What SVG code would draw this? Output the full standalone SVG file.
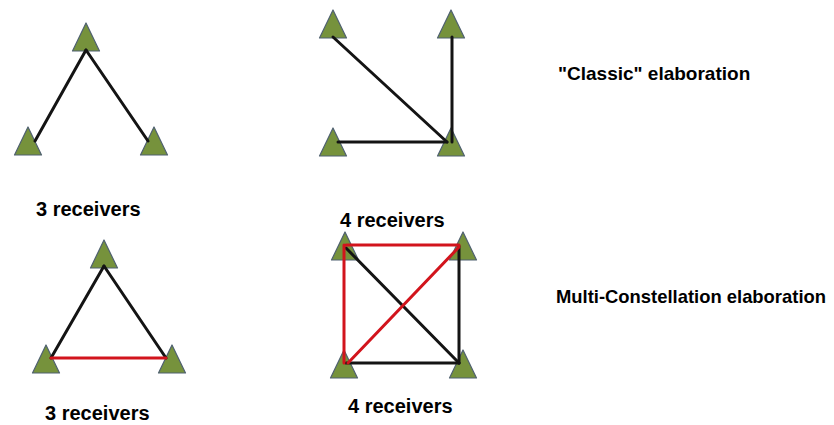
<svg xmlns="http://www.w3.org/2000/svg" width="834" height="425" viewBox="0 0 834 425">
<style>
.rx{fill:#76923c;stroke:#4f6070;stroke-width:1.2;stroke-linejoin:round}
.k{stroke:#141414;stroke-width:3;fill:none;stroke-linecap:round}
.r{stroke:#d2141c;stroke-width:3;fill:none;stroke-linecap:round}
text{font-family:"Liberation Sans",Arial,sans-serif;font-weight:bold;fill:#000}
.lbl{font-size:20px}
.ttl{font-size:19px}
</style>
<defs>
<path id="tri" d="M0,0 L13.5,28 L-13.5,28 Z"/>
</defs>
<rect width="834" height="425" fill="#fff"/>
<g id="nodes">
<g id="a1"><use href="#tri" class="rx" x="86" y="23"/></g>
<g id="a2"><use href="#tri" class="rx" x="28" y="127"/></g>
<g id="a3"><use href="#tri" class="rx" x="154" y="127"/></g>
<g id="b1"><use href="#tri" class="rx" x="333" y="10"/></g>
<g id="b2"><use href="#tri" class="rx" x="451" y="10"/></g>
<g id="b3"><use href="#tri" class="rx" x="333" y="128"/></g>
<g id="b4"><use href="#tri" class="rx" x="451" y="128"/></g>
<g id="c1"><use href="#tri" class="rx" x="104" y="240"/></g>
<g id="c2"><use href="#tri" class="rx" x="46" y="345"/></g>
<g id="c3"><use href="#tri" class="rx" x="172" y="345"/></g>
<g id="d1"><use href="#tri" class="rx" x="345" y="232"/></g>
<g id="d2"><use href="#tri" class="rx" x="463" y="232"/></g>
<g id="d3"><use href="#tri" class="rx" x="344" y="350"/></g>
<g id="d4"><use href="#tri" class="rx" x="463" y="350"/></g>
</g>
<g id="connectors">
<line class="k" x1="86" y1="50" x2="35" y2="141"/>
<line class="k" x1="86" y1="50" x2="148" y2="141"/>
<line class="k" x1="333" y1="37" x2="447" y2="142"/>
<line class="k" x1="452" y1="37" x2="452" y2="142"/>
<line class="k" x1="338" y1="142" x2="447" y2="142"/>
<line class="k" x1="104" y1="266" x2="51" y2="358"/>
<line class="k" x1="104" y1="266" x2="166" y2="358"/>
<line class="r" x1="51" y1="358" x2="166" y2="358"/>
<line class="k" x1="346" y1="248" x2="459" y2="363"/>
<line class="k" x1="459" y1="246" x2="459" y2="363"/>
<line class="k" x1="346" y1="363" x2="459" y2="363"/>
<line class="r" x1="346" y1="245" x2="459" y2="245"/>
<line class="r" x1="344" y1="245" x2="344" y2="363"/>
<line class="r" x1="348" y1="363" x2="459" y2="247"/>
</g>
<g id="labels">
<text class="lbl" x="36" y="216">3 receivers</text>
<text class="lbl" x="340" y="227">4 receivers</text>
<text class="lbl" x="45" y="420">3 receivers</text>
<text class="lbl" x="348" y="413">4 receivers</text>
<text class="ttl" x="558" y="80">"Classic" elaboration</text>
<text class="ttl" x="556" y="303" textLength="270" lengthAdjust="spacingAndGlyphs">Multi-Constellation elaboration</text>
</g>
</svg>
